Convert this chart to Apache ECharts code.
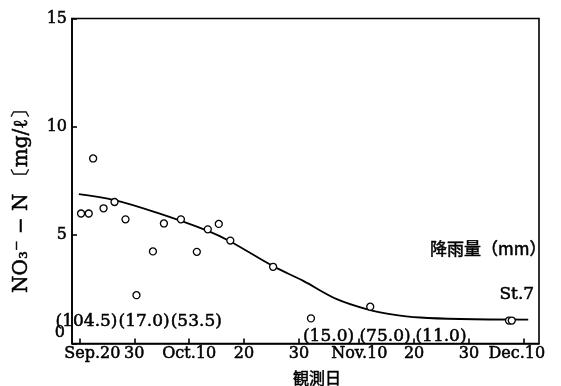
<!DOCTYPE html>
<html>
<head>
<meta charset="utf-8">
<script src="https://cdn.jsdelivr.net/npm/echarts@6/dist/echarts.min.js"></script>
<style>
  html, body { margin: 0; padding: 0; background: #fff; }
  #chart { width: 561px; height: 386px; }
</style>
</head>
<body>
<div id="chart"></div>
<script>
// Day offsets are counted from Sep. 20.
const tickDays = [0, 10, 20, 30, 40, 51, 61, 71, 81];
const tickLabels = ['Sep.20', '30', 'Oct.10', '20', '30', 'Nov.10', '20', '30', 'Dec.10'];

// Observed NO3-N concentration (mg/l)
const obsDays = [0.3, 1.7, 2.5, 4.4, 6.4, 8.4, 10.4, 13.4, 15.4, 18.5, 21.4, 23.4, 25.4, 27.5, 35.3, 42.2, 53.0, 78.3, 78.8];
const obsValues = [6.0, 6.0, 8.54, 6.24, 6.53, 5.73, 2.23, 4.25, 5.54, 5.73, 4.23, 5.27, 5.52, 4.75, 3.54, 1.16, 1.70, 1.06, 1.06];

// Fitted trend curve
const curveDays = [-0.1, 6.4, 14.1, 23.4, 27.5, 35.3, 40.8, 46.9, 53.0, 56.6, 62.1, 69.4, 81.8];
const curveValues = [6.89, 6.62, 6.04, 5.20, 4.71, 3.57, 2.89, 2.05, 1.54, 1.36, 1.20, 1.13, 1.10];

// Rainfall (mm) per period, placed at the period's day offset
const rainDays = [1.3, 11.8, 21.3, 45.4, 55.7, 65.9];
const rainAmounts = ['104.5', '17.0', '53.5', '15.0', '75.0', '11.0'];

const serif = '"DejaVu Serif", "Liberation Serif", serif';
const cjk = '"Noto Sans CJK JP", sans-serif';
const ink = '#000';
// thin outline in the text colour gives the heavier print look
const heavy = { textBorderColor: ink, textBorderWidth: 0.5 };

const chart = echarts.init(document.getElementById('chart'), null, { renderer: 'canvas' });

chart.setOption({
  backgroundColor: '#fff',
  animation: false,
  grid: {
    left: 72, top: 18.5, width: 467, height: 325,
    outerBoundsMode: 'none',
    containLabel: false,
    show: true, borderColor: ink, borderWidth: 1.6, backgroundColor: 'transparent'
  },
  title: {
    text: '降雨量（mm）',
    right: 9, top: 235,
    textStyle: Object.assign({ fontFamily: cjk, fontSize: 17, fontWeight: 'normal', color: ink }, heavy)
  },
  xAxis: {
    type: 'value',
    min: -1.35, max: 83.76,
    name: '観測日',
    nameLocation: 'middle',
    nameGap: 26,
    nameTextStyle: Object.assign({ fontFamily: cjk, fontSize: 16, color: ink, padding: [0, 0, 0, 23] }, heavy),
    axisLine: { show: true, onZero: false, lineStyle: { color: ink, width: 1.6 } },
    axisTick: { show: true, inside: true, length: 5, lineStyle: { color: ink, width: 1.6 }, customValues: tickDays },
    splitLine: { show: false },
    axisLabel: Object.assign({
      customValues: tickDays,
      margin: 2,
      fontFamily: serif, fontSize: 16, color: ink,
      formatter: function (v) {
        const i = tickDays.indexOf(v);
        const t = i >= 0 ? tickLabels[i] : '';
        if (i === 0) return '{first|' + t + '}';
        if (i === tickDays.length - 1) return '{last|' + t + '}';
        return t;
      },
      rich: {
        first: Object.assign({ fontFamily: serif, fontSize: 16, color: ink, padding: [0, 0, 0, 26] }, heavy),
        last: Object.assign({ fontFamily: serif, fontSize: 16, color: ink, padding: [0, 14, 0, 0] }, heavy)
      }
    }, heavy)
  },
  yAxis: {
    type: 'value',
    min: 0, max: 15, interval: 5,
    name: 'NO₃⁻ − N 〔mg/ℓ〕',
    nameLocation: 'middle',
    nameGap: 40,
    nameRotate: 90,
    nameTextStyle: Object.assign({ fontFamily: serif, fontSize: 20, color: ink, padding: [0, 30, 0, 0] }, heavy),
    axisLine: { show: true, onZero: false, lineStyle: { color: ink, width: 1.6 } },
    axisTick: { show: true, inside: true, length: 5, lineStyle: { color: ink, width: 1.6 } },
    splitLine: { show: false },
    axisLabel: Object.assign({
      margin: 5,
      fontFamily: serif, fontSize: 16, color: ink,
      formatter: function (v) { return v === 0 ? '{zero|0}' : String(v); },
      rich: {
        zero: Object.assign({ fontFamily: serif, fontSize: 16, color: ink, padding: [0, 2, 22, 0] }, heavy)
      }
    }, heavy)
  },
  series: [
    {
      name: 'trend',
      type: 'line',
      data: curveDays.map((d, i) => [d, curveValues[i]]),
      smooth: 0.35,
      showSymbol: false,
      symbol: 'none',
      lineStyle: { color: ink, width: 1.8 },
      z: 2
    },
    {
      name: 'observed',
      type: 'scatter',
      data: obsDays.map((d, i) => {
        const item = { value: [d, obsValues[i]] };
        if (i === obsDays.length - 1) {
          item.label = Object.assign({
            show: true, formatter: 'St.7', position: 'top', offset: [5, -8],
            fontFamily: serif, fontSize: 17, color: ink
          }, heavy);
        }
        return item;
      }),
      symbol: 'circle',
      symbolSize: 7,
      itemStyle: { color: '#fff', borderColor: ink, borderWidth: 1.3, opacity: 1 },
      z: 3
    },
    {
      name: 'rainfall',
      type: 'scatter',
      data: rainDays.map((d, i) => ({
        value: [d, 0],
        label: { offset: [0, i < 3 ? -22 : -7] }
      })),
      symbol: 'circle',
      symbolSize: 1,
      itemStyle: { color: 'rgba(0,0,0,0)', opacity: 1 },
      label: Object.assign({
        show: true, position: 'inside',
        fontFamily: serif, fontSize: 17, color: ink,
        formatter: function (p) { return '(' + rainAmounts[p.dataIndex] + ')'; }
      }, heavy),
      silent: true,
      z: 4
    }
  ]
});
</script>
</body>
</html>
